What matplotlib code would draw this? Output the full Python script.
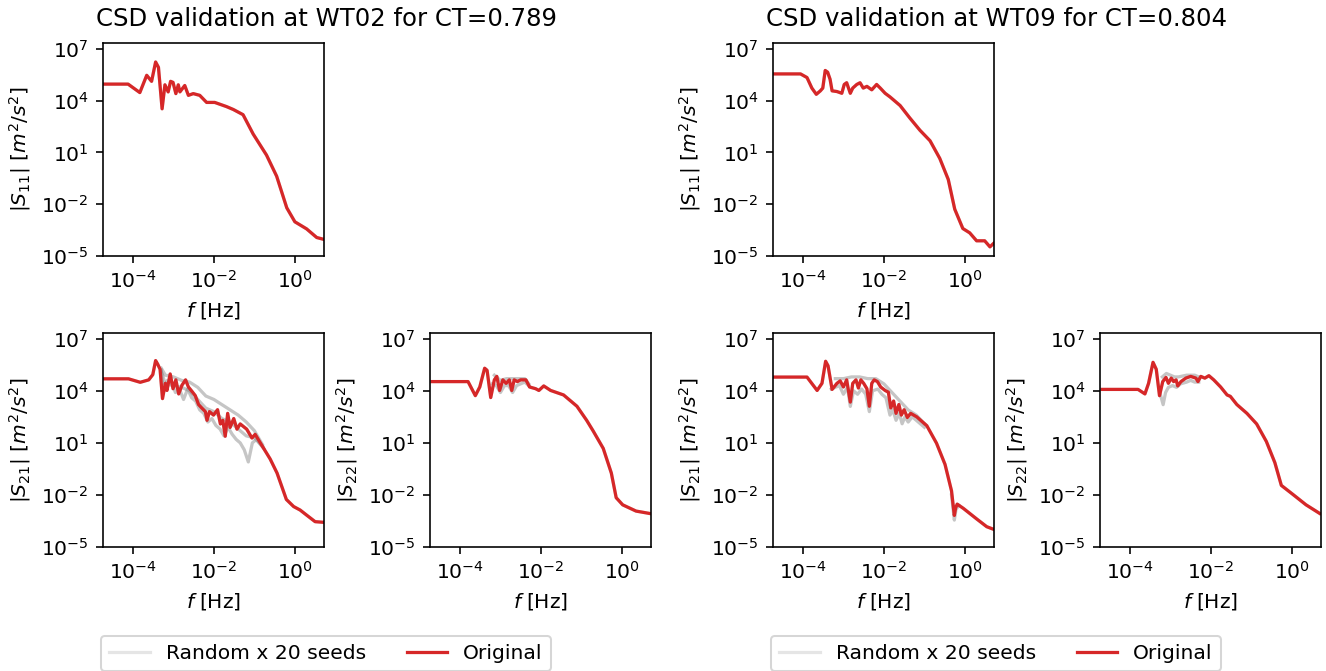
import numpy as np
import matplotlib
matplotlib.use("Agg")
import matplotlib.pyplot as plt

# values, stored as log10(f) and log10(|S|)
titles = ["CSD validation at WT02 for CT=0.789", "CSD validation at WT09 for CT=0.804"]

wt02_s11_f = [-4.74, -4.12, -3.83, -3.66, -3.54, -3.44, -3.37, -3.28, -3.21, -3.13, -3.07, -3.01, -2.94, -2.88, -2.84,
              -2.72, -2.63, -2.51, -2.35, -2.18, -1.98, -1.69, -1.52, -1.28, -1.03, -0.70, -0.45, -0.20, 0.0, 0.29, 0.54, 0.72]
wt02_s11_S = [4.95, 4.95, 4.46, 5.46, 5.11, 6.23, 5.92, 3.52, 4.91, 4.50, 5.11, 5.05, 4.40, 4.91, 4.50,
              4.87, 4.30, 4.40, 4.30, 3.89, 3.89, 3.65, 3.48, 3.18, 2.06, 0.84, -0.38, -2.21, -3.02, -3.43, -3.93, -4.04]

wt02_s21_f = [-4.74, -4.11, -3.82, -3.61, -3.51, -3.44, -3.39, -3.33, -3.27, -3.20, -3.16, -3.08, -3.01, -2.94, -2.87,
              -2.79, -2.70, -2.63, -2.54, -2.46, -2.38, -2.30, -2.21, -2.17, -2.11, -2.01, -1.91, -1.84, -1.78, -1.72,
              -1.66, -1.60, -1.51, -1.43, -1.35, -1.19, -1.06, -0.98, -0.77, -0.61, -0.44, -0.21, -0.03, 0.13, 0.30,
              0.50, 0.72]
wt02_s21_S = [4.69, 4.69, 4.49, 4.63, 4.93, 5.74, 5.54, 5.24, 3.55, 4.43, 4.02, 4.97, 4.12, 4.63, 3.82,
              4.32, 4.63, 4.22, 3.96, 3.72, 3.21, 3.01, 2.80, 2.30, 2.80, 2.60, 2.91, 2.09, 2.30, 1.38,
              2.70, 1.89, 2.40, 1.79, 2.09, 1.79, 1.28, 1.49, 0.68, 0.07, -0.74, -2.26, -2.67, -2.87, -3.18,
              -3.54, -3.58]

wt02_s22_f = [-4.69, -3.80, -3.62, -3.51, -3.39, -3.33, -3.24, -3.15, -3.09, -3.02, -2.94, -2.86, -2.78, -2.72, -2.66,
              -2.58, -2.50, -2.37, -2.28, -2.13, -2.05, -1.93, -1.76, -1.44, -1.11, -0.87, -0.71, -0.46, -0.26, -0.14,
              0.02, 0.35, 0.69]
wt02_s22_S = [4.53, 4.53, 3.72, 4.22, 5.30, 5.18, 3.61, 4.63, 4.83, 4.02, 4.63, 4.43, 4.63, 4.02, 4.63,
              4.53, 4.63, 4.63, 4.22, 4.12, 4.02, 4.28, 4.02, 3.76, 3.11, 2.30, 1.69, 0.68, -0.74, -2.16,
              -2.57, -2.93, -3.07]

wt09_s11_f = [-4.72, -4.06, -3.90, -3.78, -3.67, -3.57, -3.51, -3.45, -3.39, -3.33, -3.28, -3.16, -3.04, -2.98, -2.92,
              -2.83, -2.77, -2.67, -2.59, -2.51, -2.42, -2.30, -2.18, -2.09, -1.97, -1.85, -1.60, -1.36, -1.11, -0.86,
              -0.62, -0.41, -0.25, -0.05, 0.12, 0.29, 0.49, 0.62, 0.71]
wt09_s11_S = [5.54, 5.54, 5.33, 4.72, 4.36, 4.56, 4.72, 5.74, 5.64, 5.23, 4.56, 4.52, 4.42, 4.93, 5.03,
              4.42, 4.72, 4.93, 5.03, 4.72, 4.82, 4.62, 4.93, 4.72, 4.42, 4.21, 3.71, 2.99, 2.28, 1.67,
              0.65, -0.57, -2.29, -3.41, -3.66, -4.12, -4.12, -4.47, -4.27]

wt09_s21_f = [-4.72, -3.90, -3.65, -3.53, -3.44, -3.38, -3.28, -3.16, -3.08, -3.00, -2.92, -2.83, -2.77, -2.69, -2.63,
              -2.57, -2.50, -2.42, -2.36, -2.30, -2.24, -2.16, -2.08, -1.97, -1.89, -1.83, -1.76, -1.70, -1.63, -1.57,
              -1.50, -1.42, -1.34, -1.19, -0.94, -0.70, -0.49, -0.33, -0.26, -0.23, -0.19, -0.04, 0.29, 0.54, 0.72]
wt09_s21_S = [4.79, 4.79, 4.02, 4.43, 5.70, 5.44, 4.08, 4.43, 4.57, 4.22, 4.63, 3.35, 4.43, 4.63, 4.16,
              4.63, 4.43, 4.12, 3.11, 4.43, 4.63, 4.53, 4.22, 4.02, 3.92, 3.01, 3.41, 2.70, 3.21, 2.60,
              2.91, 2.46, 2.70, 2.50, 1.99, 0.98, -0.24, -1.76, -3.18, -2.77, -2.53, -2.77, -3.38, -3.83, -3.99]

wt09_s22_f = [-4.69, -3.80, -3.63, -3.54, -3.43, -3.35, -3.27, -3.19, -3.11, -3.05, -2.98, -2.92, -2.86, -2.82, -2.74,
              -2.62, -2.50, -2.37, -2.32, -2.25, -2.15, -2.05, -1.93, -1.76, -1.60, -1.52, -1.36, -1.11, -0.87, -0.63,
              -0.42, -0.26, 0.02, 0.35, 0.69]
wt09_s22_S = [4.08, 4.08, 3.82, 4.43, 5.64, 5.24, 3.72, 4.53, 4.77, 4.43, 4.73, 4.53, 4.63, 4.28, 4.53,
              4.73, 4.83, 4.73, 4.53, 4.83, 4.73, 4.87, 4.63, 4.22, 3.76, 3.68, 3.21, 2.70, 2.09, 1.08,
              -0.14, -1.45, -1.96, -2.57, -3.07]

# a few of the 20 random-seed curves, only where they leave the original
wt02_s21_seeds = [
    ([-3.30, -3.25, -3.15, -3.05, -2.95, -2.85, -2.75, -2.65, -2.55, -2.45, -2.35, -2.25, -2.15, -2.05, -1.95,
      -1.85, -1.75, -1.65, -1.55, -1.45, -1.35, -1.25, -1.15, -1.05, -0.95, -0.85, -0.77],
     [5.2, 3.9, 4.6, 4.5, 3.9, 4.1, 3.5, 4.1, 3.6, 3.4, 2.9, 2.7, 2.2, 2.4, 2.0,
      1.8, 1.4, 1.9, 1.5, 1.2, 1.0, 0.6, -0.1, 1.0, 1.2, 0.9, 0.68]),
    ([-3.3, -3.2, -3.0, -2.8, -2.6, -2.4, -2.2, -2.0, -1.8, -1.6, -1.4, -1.2, -1.0, -0.8],
     [5.3, 4.9, 4.8, 4.6, 4.5, 4.2, 3.7, 3.5, 3.2, 2.9, 2.6, 2.2, 1.7, 0.9]),
    ([-3.3, -3.2, -3.0, -2.8, -2.6, -2.4, -2.2, -2.0, -1.8, -1.6, -1.4, -1.2, -1.0, -0.8],
     [5.1, 4.4, 4.3, 4.2, 4.0, 3.5, 3.0, 2.8, 2.4, 2.2, 1.8, 1.4, 1.3, 0.8]),
]
wt02_s22_seeds = [
    ([-3.2, -3.1, -3.0, -2.9, -2.8, -2.7, -2.6, -2.5, -2.4, -2.3],
     [4.4, 4.3, 3.9, 4.3, 4.3, 3.9, 4.3, 4.4, 4.5, 4.3]),
    ([-3.15, -3.0, -2.85, -2.7, -2.55, -2.4, -2.3],
     [4.9, 4.6, 4.7, 4.7, 4.7, 4.7, 4.4]),
]
wt09_s21_seeds = [
    ([-3.3, -3.2, -3.1, -3.0, -2.9, -2.83, -2.75, -2.65, -2.55, -2.45, -2.36, -2.28, -2.15, -2.05, -1.95,
      -1.85, -1.78, -1.70, -1.62, -1.55, -1.48, -1.40, -1.30, -1.2, -1.0],
     [4.1, 4.2, 4.3, 3.8, 4.2, 3.1, 4.0, 3.8, 4.1, 3.8, 2.8, 4.0, 4.1, 3.8, 3.6,
      2.6, 2.9, 2.3, 2.7, 2.1, 2.5, 2.2, 2.5, 2.3, 1.9]),
    ([-3.2, -3.0, -2.8, -2.6, -2.4, -2.2, -2.0, -1.8, -1.6, -1.4, -1.2, -1.0],
     [4.7, 4.7, 4.8, 4.8, 4.7, 4.7, 4.4, 3.9, 3.4, 2.9, 2.6, 2.1]),
    ([-0.33, -0.26, -0.22, -0.15],
     [-2.0, -3.45, -2.85, -2.6]),
]
wt09_s22_seeds = [
    ([-3.25, -3.18, -3.12, -3.05, -2.95, -2.85, -2.75, -2.6, -2.5, -2.4, -2.3],
     [3.8, 3.2, 3.9, 4.2, 4.3, 4.2, 4.4, 4.5, 4.6, 4.5, 4.5]),
    ([-3.2, -3.1, -3.0, -2.9, -2.8, -2.6, -2.4, -2.3],
     [4.8, 5.0, 4.9, 4.8, 4.8, 4.9, 4.9, 4.8]),
]

W, H = 1326, 671
DPI = 146
fig = plt.figure(figsize=(W / DPI, H / DPI), dpi=DPI)

red = "#d62728"


def make_ax(x0, y0, x1, y1):
    return fig.add_axes([x0 / W, 1 - y1 / H, (x1 - x0) / W, (y1 - y0) / H])


def panel(ax, f, S, seeds, ylab):
    f = 10 ** np.array(f)
    S = 10 ** np.array(S)
    ax.plot(f, S, color="gray", alpha=0.2, lw=1.6)
    for sf, sS in seeds:
        ax.plot(10 ** np.array(sf), 10 ** np.array(sS), color="gray", alpha=0.45, lw=1.6)
    ax.plot(f, S, color=red, lw=1.6)
    ax.set_xscale("log")
    ax.set_yscale("log")
    ax.set_xlim(10 ** -4.74, 10 ** 0.72)
    ax.set_ylim(1e-5, 10 ** 7.33)
    ax.set_xticks([1e-4, 1e-2, 1e0])
    ax.set_yticks([1e-5, 1e-2, 1e1, 1e4, 1e7])
    ax.minorticks_off()
    ax.set_xlabel(r"$f$ [Hz]")
    ax.set_ylabel(ylab)


groups = [
    (0, wt02_s11_f, wt02_s11_S, wt02_s21_f, wt02_s21_S, wt02_s21_seeds, wt02_s22_f, wt02_s22_S, wt02_s22_seeds),
    (670, wt09_s11_f, wt09_s11_S, wt09_s21_f, wt09_s21_S, wt09_s21_seeds, wt09_s22_f, wt09_s22_S, wt09_s22_seeds),
]

for k, (dx, f11, S11, f21, S21, sd21, f22, S22, sd22) in enumerate(groups):
    ax11 = make_ax(103 + dx, 43, 324 + dx, 256)
    ax21 = make_ax(103 + dx, 333, 324 + dx, 547)
    ax22 = make_ax(430 + dx, 333, 651 + dx, 547)
    panel(ax11, f11, S11, [], r"$|S_{11}|$ $[m^2/s^2]$")
    panel(ax21, f21, S21, sd21, r"$|S_{21}|$ $[m^2/s^2]$")
    panel(ax22, f22, S22, sd22, r"$|S_{22}|$ $[m^2/s^2]$")

    cx = (327 + dx) / W
    fig.text(cx, 1 - 19 / H, titles[k], ha="center", va="center", fontsize=12)

    h1, = ax21.plot([], [], color="gray", alpha=0.2, lw=1.6, label="Random x 20 seeds")
    h2, = ax21.plot([], [], color=red, lw=1.6, label="Original")
    fig.legend(handles=[h1, h2], ncol=2, loc="upper center",
               bbox_to_anchor=((326 + dx) / W, 1 - 636 / H), borderaxespad=0)

fig.savefig("out.png", dpi=DPI)
